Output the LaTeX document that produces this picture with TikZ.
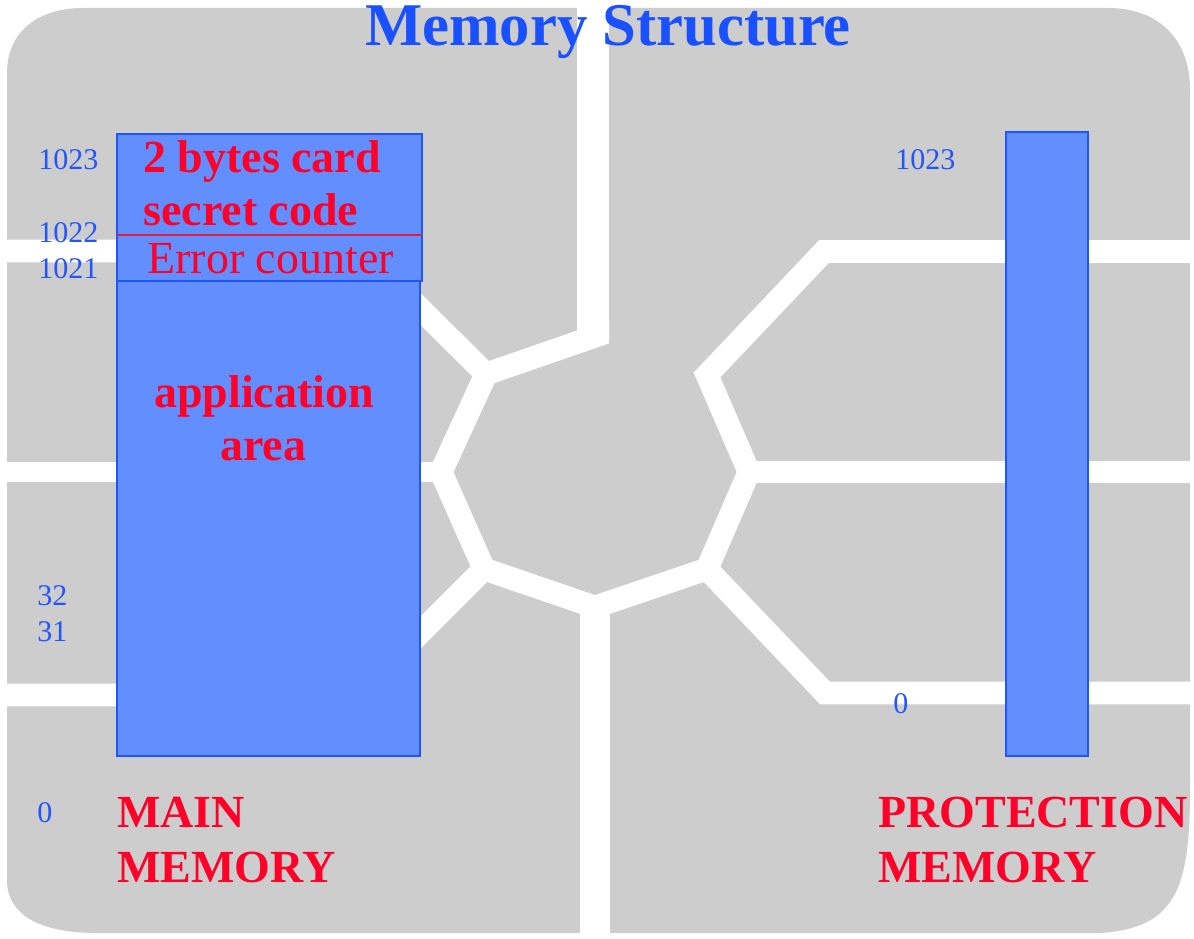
\documentclass[tikz,border=0pt]{standalone}
\usepackage{fontspec}
\setmainfont{Liberation Serif}
\definecolor{padgray}{RGB}{205,205,205}
\definecolor{memfill}{RGB}{98,142,255}
\definecolor{memedge}{RGB}{30,85,255}
\definecolor{txtred}{RGB}{255,0,40}
\definecolor{sepred}{RGB}{225,30,60}
\definecolor{titleblue}{RGB}{25,80,255}
\definecolor{addrblue}{RGB}{35,85,255}
\tikzset{
  channel/.style={draw=white, line width=17pt, line join=miter},
  memblock/.style={fill=memfill, draw=memedge, line width=1.5pt},
  sepline/.style={draw=sepred, line width=1.5pt},
  bigbold/.style={inner sep=0pt, text=txtred, font=\fontsize{34.5}{40}\selectfont\bfseries},
  bigreg/.style={inner sep=0pt, text=txtred, font=\fontsize{34.5}{40}\selectfont},
  addr/.style={inner sep=0pt, text=addrblue, font=\fontsize{22.5}{26}\selectfont, anchor=base west},
  titletxt/.style={inner sep=0pt, text=titleblue, font=\fontsize{45.5}{52}\selectfont\bfseries}
}
\begin{document}
\begin{tikzpicture}[x=0.75pt,y=-0.75pt]
\useasboundingbox (0,0) rectangle (1194,938);
% card contact background
\fill[padgray] (7,73) .. controls (7,30) and (40,8) .. (83,8) -- (1110,8)
  .. controls (1160,9) and (1190,40) .. (1190,90) -- (1190,790)
  .. controls (1190,890) and (1175,928) .. (1100,933) -- (97,933)
  .. controls (40,933) and (7,915) .. (7,880) -- cycle;
% junction points of the separating channels
\coordinate (tv) at (593,-10);
\coordinate (tvb) at (593,337);
\coordinate (tdx) at (630,324.2);
\coordinate (jtl) at (486,374);
\coordinate (jl) at (441,472);
\coordinate (jbl) at (484,569);
\coordinate (jb) at (595,607);
\coordinate (jbr) at (707,569);
\coordinate (jr) at (749,472);
\coordinate (jtr) at (707,375);
\coordinate (tr1) at (824,251.5);
\coordinate (tr2) at (1200,251.5);
\coordinate (ul1) at (362,251);
\coordinate (ul2) at (-10,251);
\coordinate (ml) at (-10,472);
\coordinate (ll1) at (358,695);
\coordinate (ll2) at (-10,695);
\coordinate (bv) at (595,945);
\coordinate (lr1) at (825,693);
\coordinate (lr2) at (1200,693);
\coordinate (mr) at (1200,472);
% white channels
\begin{scope}
  \clip (0,0) rectangle (609,938);
  \draw[channel] (tdx) -- (jtl) -- (jl);
\end{scope}
\draw[channel] (jtl) -- (jl) -- (jbl) -- (jb) -- (jbr) -- (jr) -- (jtr) -- (tr1) -- (tr2);
\draw[channel, line width=24pt] (tv) -- (tvb);
\draw[channel, line cap=round] (jtl) -- (ul1) -- (ul2);
\draw[channel, line width=15pt, line cap=round] (jl) -- (ml);
\draw[channel, line cap=round] (jbl) -- (ll1) -- (ll2);
\draw[channel, line width=22.5pt] (jb) -- (bv);
\draw[channel, line cap=round] (jbr) -- (lr1) -- (lr2);
\draw[channel] (jr) -- (mr);
% memory blocks
\path[memblock] (117,280) rectangle (420,756);
\path[memblock] (117,134) rectangle (422,281);
\coordinate (sl) at (117,235);
\coordinate (sr) at (422,235);
\draw[sepline] (sl) -- (sr);
\path[memblock] (1006,132) rectangle (1088,756);
% texts
\node[titletxt, anchor=base] (title) at (608,46) {Memory Structure};
\node[bigbold, anchor=base west] (code1) at (143,172) {2 bytes card};
\node[bigbold, anchor=base west] (code2) at (143,225) {secret code};
\node[bigreg, anchor=base west] (err) at (147,273) {Error counter};
\node[bigbold, anchor=base] (app1) at (264,407) {application};
\node[bigbold, anchor=base] (app2) at (263,460) {area};
\node[bigbold, anchor=base west] (mm1) at (117,827) {MAIN};
\node[bigbold, anchor=base west] (mm2) at (117,882) {MEMORY};
\node[bigbold, anchor=base west] (pm1) at (878,827) {PROTECTION};
\node[bigbold, anchor=base west] (pm2) at (878,882) {MEMORY};
\node[addr] (a1023) at (38,170) {1023};
\node[addr] (a1022) at (38,242) {1022};
\node[addr] (a1021) at (38,278) {1021};
\node[addr] (a32) at (37,605) {32};
\node[addr] (a31) at (37,641) {31};
\node[addr] (a0) at (37,822) {0};
\node[addr] (p1023) at (895,170) {1023};
\node[addr] (p0) at (893,713) {0};
\end{tikzpicture}
\end{document}
